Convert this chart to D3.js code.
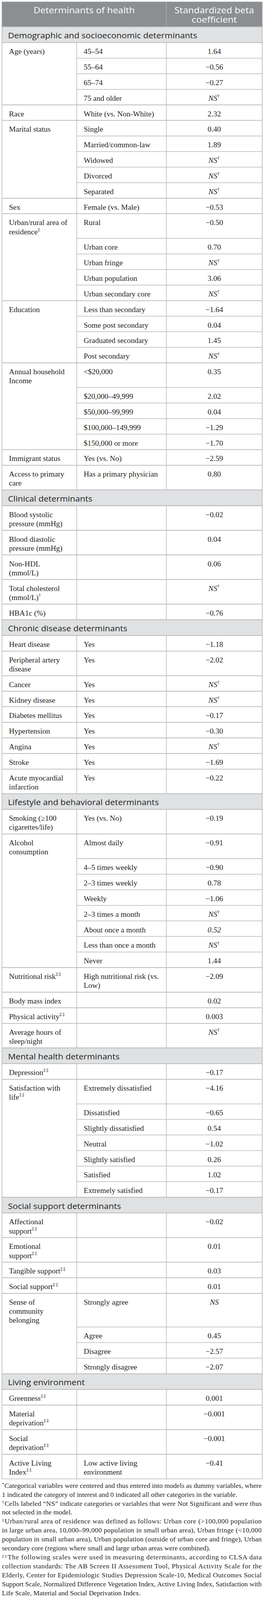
<!DOCTYPE html>
<html>
<head>
<meta charset="utf-8">
<script src="https://cdn.jsdelivr.net/npm/d3@7"></script>
<style>
  html, body { margin: 0; padding: 0; background: #ffffff; width: 100%; height: 100%; overflow: hidden; }
  #chart { width: 100vw; height: 100vh; }
  svg { display: block; width: 100vw; height: 100vh; }
</style>
</head>
<body>
<div id="chart"></div>
<script>
// ---------------- DATA ----------------
const headerLabels = ["Determinants of health", "Standardized beta\ncoefficient"];

const sectionTitles = [
  "Demographic and socioeconomic determinants",
  "Clinical determinants",
  "Chronic disease determinants",
  "Lifestyle and behavioral determinants",
  "Mental health determinants",
  "Social support determinants",
  "Living environment"
];

const determinantSection = [
  0, 0, 0, 0, 0, 0, 0, 0, 0,
  1, 1, 1, 1, 1,
  2, 2, 2, 2, 2, 2, 2, 2, 2,
  3, 3, 3, 3, 3, 3,
  4, 4,
  5, 5, 5, 5, 5,
  6, 6, 6, 6
];

const determinantLabels = [
  "Age (years)",
  "Race",
  "Marital status",
  "Sex",
  "Urban/rural area of\nresidence‡",
  "Education",
  "Annual household\nIncome",
  "Immigrant status",
  "Access to primary\ncare",
  "Blood systolic\npressure (mmHg)",
  "Blood diastolic\npressure (mmHg)",
  "Non-HDL\n(mmol/L)",
  "Total cholesterol\n(mmol/L)†",
  "HBA1c (%)",
  "Heart disease",
  "Peripheral artery\ndisease",
  "Cancer",
  "Kidney disease",
  "Diabetes mellitus",
  "Hypertension",
  "Angina",
  "Stroke",
  "Acute myocardial\ninfarction",
  "Smoking (≥100\ncigarettes/life)",
  "Alcohol\nconsumption",
  "Nutritional risk‡‡",
  "Body mass index",
  "Physical activity‡‡",
  "Average hours of\nsleep/night",
  "Depression‡‡",
  "Satisfaction with\nlife‡‡",
  "Affectional\nsupport‡‡",
  "Emotional\nsupport‡‡",
  "Tangible support‡‡",
  "Social support‡‡",
  "Sense of\ncommunity\nbelonging",
  "Greenness‡‡",
  "Material\ndeprivation‡‡",
  "Social\ndeprivation‡‡",
  "Active Living\nIndex‡‡"
];

const categoryLabels = [
  ["45–54", "55–64", "65–74", "75 and older"],
  ["White (vs. Non-White)"],
  ["Single", "Married/common-law", "Widowed", "Divorced", "Separated"],
  ["Female (vs. Male)"],
  ["Rural", "Urban core", "Urban fringe", "Urban population", "Urban secondary core"],
  ["Less than secondary", "Some post secondary", "Graduated secondary", "Post secondary"],
  ["<$20,000", "$20,000–49,999", "$50,000–99,999", "$100,000–149,999", "$150,000 or more"],
  ["Yes (vs. No)"],
  ["Has a primary physician"],
  [""], [""], [""], [""], [""],
  ["Yes"], ["Yes"], ["Yes"], ["Yes"], ["Yes"], ["Yes"], ["Yes"], ["Yes"], ["Yes"],
  ["Yes (vs. No)"],
  ["Almost daily", "4–5 times weekly", "2–3 times weekly", "Weekly", "2–3 times a month",
   "About once a month", "Less than once a month", "Never"],
  ["High nutritional risk (vs.\nLow)"],
  [""], [""], [""],
  [""],
  ["Extremely dissatisfied", "Dissatisfied", "Slightly dissatisfied", "Neutral",
   "Slightly satisfied", "Satisfied", "Extremely satisfied"],
  [""], [""], [""], [""],
  ["Strongly agree", "Agree", "Disagree", "Strongly disagree"],
  [""], [""], [""],
  ["Low active living\nenvironment"]
];

const betaValues = [
  ["1.64", "−0.56", "−0.27", "NS†"],
  ["2.32"],
  ["0.40", "1.89", "NS†", "NS†", "NS†"],
  ["−0.53"],
  ["−0.50", "0.70", "NS†", "3.06", "NS†"],
  ["−1.64", "0.04", "1.45", "NS†"],
  ["0.35", "2.02", "0.04", "−1.29", "−1.70"],
  ["−2.59"],
  ["0.80"],
  ["−0.02"], ["0.04"], ["0.06"], ["NS†"], ["−0.76"],
  ["−1.18"], ["−2.02"], ["NS†"], ["NS†"], ["−0.17"], ["−0.30"], ["NS†"], ["−1.69"], ["−0.22"],
  ["−0.19"],
  ["−0.91", "−0.90", "0.78", "−1.06", "NS†", "0.52", "NS†", "1.44"],
  ["−2.09"],
  ["0.02"], ["0.003"], ["NS†"],
  ["−0.17"],
  ["−4.16", "−0.65", "0.54", "−1.02", "0.26", "1.02", "−0.17"],
  ["−0.02"], ["0.01"], ["0.03"], ["0.01"],
  ["NS", "0.45", "−2.57", "−2.07"],
  ["0.001"], ["−0.001"], ["−0.001"],
  ["−0.41"]
];

// value cells printed in italics in the source besides "NS": [determinant, category]
const italicCells = [[24, 5]];

const footnoteMarks = ["*", "", "†", "", "‡", "", "", "", "‡‡", "", "", "", ""];
const footnoteLines = [
  "Categorical variables were centered and thus entered into models as dummy variables, where",
  "1 indicated the category of interest and 0 indicated all other categories in the variable.",
  "Cells labeled “NS” indicate categories or variables that were Not Significant and were thus",
  "not selected in the model.",
  "Urban/rural area of residence was defined as follows: Urban core (>100,000 population",
  "in large urban area, 10,000–99,000 population in small urban area), Urban fringe (<10,000",
  "population in small urban area), Urban population (outside of urban core and fringe), Urban",
  "secondary core (regions where small and large urban areas were combined).",
  "The following scales were used in measuring determinants, according to CLSA data",
  "collection standards: The AB Screen II Assessment Tool, Physical Activity Scale for the",
  "Elderly, Center for Epidemiologic Studies Depression Scale-10, Medical Outcomes Social",
  "Support Scale, Normalized Difference Vegetation Index, Active Living Index, Satisfaction with",
  "Life Scale, Material and Social Deprivation Index."
];
const footnoteParagraphEnds = [1, 3, 7, 12];

// ---------------- LAYOUT ----------------
const W = 674, H = 4334;
const colEdges = [5, 196.5, 426.4, 672];
const padX = 18;
const headerTop = 5, headerBottom = 72.7;
const SECTION_H = 42.8;
const LINE_H = 24.5, BASE_H = 17.65;
const BASELINE = 30.8;

const SERIF = "'Liberation Serif', 'Times New Roman', serif";
const SANS = "'Open Sans', 'Noto Sans', sans-serif";
const LINE_COLOR = "#b7b8ba";
const TEXT_COLOR = "#231f20";

const svg = d3.select("#chart").append("svg")
  .attr("viewBox", `0 0 ${W} ${H}`)
  .attr("preserveAspectRatio", "none");

// compute rows
const rows = [];
const groups = [];
const sectionRows = [];
let y = headerBottom;
sectionTitles.forEach((title, si) => {
  sectionRows.push({ title, y0: y, y1: y + SECTION_H });
  y += SECTION_H;
  determinantLabels.forEach((lab, d) => {
    if (determinantSection[d] !== si) return;
    const gTop = y;
    categoryLabels[d].forEach((cat, c) => {
      const detLines = c === 0 ? lab.split("\n").length : 1;
      const catLines = cat.split("\n").length;
      const n = Math.max(detLines, catLines);
      const h = BASE_H + LINE_H * n;
      rows.push({ d, c, y0: y, y1: y + h });
      y += h;
    });
    groups.push({ d, y0: gTop, y1: y });
  });
});
const tableBottom = y;

// helper: write multi-line text with trailing superscript marks
function writeText(sel, str, xPos, yPos, opts) {
  const t = sel.append("text")
    .attr("x", xPos).attr("y", yPos)
    .attr("font-family", opts.family)
    .attr("font-size", opts.size)
    .attr("fill", opts.fill || TEXT_COLOR)
    .attr("text-anchor", opts.anchor || "start");
  const lines = str.split("\n");
  lines.forEach((ln, i) => {
    const m = ln.match(/^(.*?)([†‡*]+)$/);
    const main = m ? m[1] : ln;
    const marks = m ? m[2] : "";
    t.append("tspan")
      .attr("x", xPos)
      .attr("dy", i === 0 ? 0 : (opts.lineH || LINE_H))
      .attr("font-style", opts.italic ? "italic" : null)
      .text(main);
    if (marks) {
      t.append("tspan")
        .attr("font-size", opts.size * 0.62)
        .attr("font-style", "normal")
        .attr("letter-spacing", 1.5)
        .attr("dy", -opts.size * 0.42)
        .text(marks);
      if (i < lines.length - 1) {
        t.append("tspan").attr("dy", opts.size * 0.42).text("");
      }
    }
  });
  return t;
}

// ---- header ----
const header = svg.append("g");
header.append("rect")
  .attr("x", colEdges[0]).attr("y", headerTop)
  .attr("width", colEdges[3] - colEdges[0]).attr("height", headerBottom - headerTop)
  .attr("fill", "#8c8f91")
  .attr("stroke", "#a9abad").attr("stroke-width", 1.5);
header.append("line")
  .attr("x1", colEdges[2]).attr("x2", colEdges[2])
  .attr("y1", headerTop).attr("y2", headerBottom)
  .attr("stroke", "#aeb0b2").attr("stroke-width", 1.5);
writeText(header, headerLabels[0], (colEdges[0] + colEdges[2]) / 2, headerTop + 31,
  { family: SANS, size: 24, fill: "#ffffff", anchor: "middle", lineH: 25 });
writeText(header, headerLabels[1], (colEdges[2] + colEdges[3]) / 2, headerTop + 31,
  { family: SANS, size: 24, fill: "#ffffff", anchor: "middle", lineH: 25 });

// ---- section rows ----
const secG = svg.append("g");
secG.selectAll("rect").data(sectionRows).join("rect")
  .attr("x", colEdges[0]).attr("y", d => d.y0)
  .attr("width", colEdges[3] - colEdges[0]).attr("height", d => d.y1 - d.y0)
  .attr("fill", "#dfe1e2")
  .attr("stroke", LINE_COLOR).attr("stroke-width", 1.6);
secG.selectAll("text").data(sectionRows).join("text")
  .attr("x", colEdges[0] + 15.5)
  .attr("y", d => d.y0 + 31.5)
  .attr("font-family", SANS)
  .attr("font-size", 22)
  .attr("fill", "#1f1f1f")
  .text(d => d.title);

// ---- grid lines ----
const gridG = svg.append("g")
  .attr("stroke", LINE_COLOR).attr("stroke-width", 1.6).attr("fill", "none");
gridG.selectAll("line.sub").data(rows.filter(r => r.c > 0)).join("line")
  .attr("class", "sub")
  .attr("x1", colEdges[1]).attr("x2", colEdges[3])
  .attr("y1", d => d.y0).attr("y2", d => d.y0);
groups.forEach(g => {
  [g.y0, g.y1].forEach(yy => {
    gridG.append("line")
      .attr("x1", colEdges[0]).attr("x2", colEdges[3])
      .attr("y1", yy).attr("y2", yy);
  });
  colEdges.forEach(xx => {
    gridG.append("line")
      .attr("x1", xx).attr("x2", xx)
      .attr("y1", g.y0).attr("y2", g.y1);
  });
});

// ---- cell texts ----
const cellG = svg.append("g");
rows.forEach(r => {
  const ty = r.y0 + BASELINE;
  if (r.c === 0) {
    writeText(cellG, determinantLabels[r.d], colEdges[0] + padX, ty,
      { family: SERIF, size: 19.5 });
  }
  const cat = categoryLabels[r.d][r.c];
  if (cat) {
    writeText(cellG, cat, colEdges[1] + padX, ty, { family: SERIF, size: 19.5 });
  }
  const v = betaValues[r.d][r.c];
  const isItalic = v.startsWith("NS") || italicCells.some(ic => ic[0] === r.d && ic[1] === r.c);
  writeText(cellG, v, (colEdges[2] + colEdges[3]) / 2, ty,
    { family: SERIF, size: 19.5, anchor: "middle", italic: isItalic });
});

// ---- footnotes ----
const fnG = svg.append("g");
const fnTop = tableBottom + 24;
const fnLineH = 24.3;
const fnLeft = 5, fnRight = 670.5;
footnoteLines.forEach((ln, i) => {
  const t = fnG.append("text")
    .attr("x", fnLeft)
    .attr("y", fnTop + i * fnLineH)
    .attr("font-family", SERIF)
    .attr("font-size", 17.6)
    .attr("fill", TEXT_COLOR);
  const mark = footnoteMarks[i];
  if (mark) {
    t.append("tspan").attr("font-size", 11).attr("dy", -6).attr("letter-spacing", 1).text(mark);
    t.append("tspan").attr("dy", 6).text(ln);
  } else {
    t.append("tspan").text(ln);
  }
  if (!footnoteParagraphEnds.includes(i)) {
    t.attr("textLength", fnRight - fnLeft).attr("lengthAdjust", "spacing");
  }
});
</script>
</body>
</html>
